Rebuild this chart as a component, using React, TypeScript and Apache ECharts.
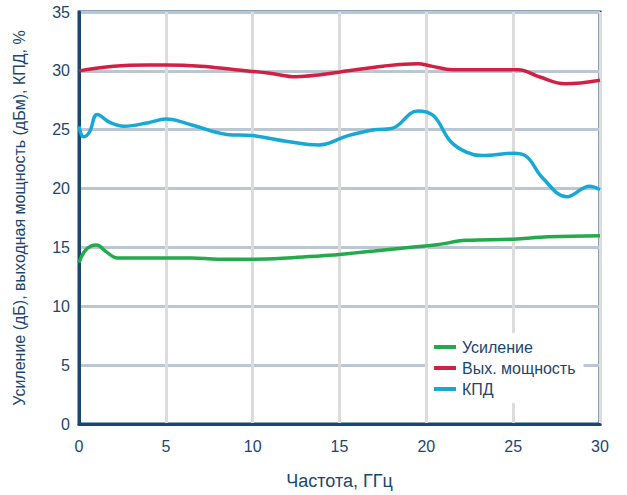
import React, { useEffect, useRef } from "react";
import * as echarts from "echarts";

const gainFreq = [0, 0.4, 1.0, 1.6, 2.2, 3, 5, 6.5, 8, 10, 12, 14, 15, 17, 19, 20.5, 22.3, 25, 27, 30];
const gainVals = [13.7, 14.8, 15.2, 14.6, 14.1, 14.1, 14.1, 14.1, 14.0, 14.0, 14.1, 14.3, 14.4, 14.7, 15.0, 15.2, 15.6, 15.7, 15.9, 16.0];

const powerFreq = [0, 2, 4, 5, 7, 9, 11, 12.5, 14, 15.5, 17.5, 19.5, 20.3, 21.5, 23, 25.3, 26.5, 28, 30];
const powerVals = [30.0, 30.4, 30.5, 30.5, 30.4, 30.1, 29.8, 29.5, 29.7, 30.0, 30.4, 30.6, 30.4, 30.1, 30.1, 30.1, 29.5, 28.9, 29.2];

const effFreq = [0, 0.25, 0.6, 1.05, 1.8, 2.6, 4, 5, 6.5, 8.5, 10, 12, 13.8, 15.5, 17, 18, 19.5, 20.4, 21.4, 22.3, 23.2, 25, 25.7, 26.7, 28.1, 29.4, 30];
const effVals = [25.3, 24.4, 24.8, 26.3, 25.6, 25.3, 25.6, 25.9, 25.4, 24.6, 24.5, 24.0, 23.7, 24.5, 25.0, 25.1, 26.6, 26.2, 24.0, 23.1, 22.8, 23.0, 22.8, 20.9, 19.3, 20.2, 19.9];

const seriesNames = ["Усиление", "Вых. мощность", "КПД"];
const xTicks = { min: 0, max: 30, interval: 5 };
const yTicks = { min: 0, max: 35, interval: 5 };

const NAVY = "#1b4670";
const FONT = "'Liberation Sans', Arial, sans-serif";

export default function App() {
  const ref = useRef<HTMLDivElement>(null);
  useEffect(() => {
    if (!ref.current) return;
    const chart = echarts.init(ref.current, null, { renderer: "svg", width: 627, height: 495 });
    const pair = (xs: number[], ys: number[]) => xs.map((x, i) => [x, ys[i]]);
    chart.setOption({
      animation: false,
      backgroundColor: "#ffffff",
      textStyle: { fontFamily: FONT },
      grid: {
        left: 79,
        right: 27,
        top: 12,
        bottom: 67,
        show: true,
        borderColor: NAVY,
        borderWidth: 3,
        backgroundColor: "transparent",
      },
      legend: {
        orient: "vertical",
        left: 428,
        top: 333,
        backgroundColor: "#ffffff",
        padding: [6, 8, 6, 6],
        itemWidth: 22,
        itemHeight: 4,
        itemGap: 5,
        icon: "rect",
        textStyle: { color: NAVY, fontSize: 16, fontFamily: FONT, padding: [0, 0, 0, 1] },
        data: seriesNames,
      },
      xAxis: {
        type: "value",
        min: xTicks.min,
        max: xTicks.max,
        interval: xTicks.interval,
        name: "Частота, ГГц",
        nameLocation: "middle",
        nameGap: 48,
        nameTextStyle: { color: NAVY, fontSize: 18, fontFamily: FONT },
        axisLine: { show: true, lineStyle: { color: NAVY, width: 3 } },
        axisTick: { show: false },
        axisLabel: { color: NAVY, fontSize: 16, margin: 14, fontFamily: FONT },
        splitLine: { show: true, lineStyle: { color: "#dcdcdc", width: 3 } },
      },
      yAxis: {
        type: "value",
        min: yTicks.min,
        max: yTicks.max,
        interval: yTicks.interval,
        name: "Усиление (дБ), выходная мощность (дБм), КПД, %",
        nameLocation: "middle",
        nameGap: 52,
        nameTextStyle: { color: NAVY, fontSize: 16, fontFamily: FONT },
        axisLine: { show: true, lineStyle: { color: NAVY, width: 3 } },
        axisTick: { show: false },
        axisLabel: { color: NAVY, fontSize: 16, margin: 9, fontFamily: FONT },
        splitLine: { show: true, lineStyle: { color: "#bac6d2", width: 3 } },
      },
      series: [
        {
          name: seriesNames[0],
          type: "line",
          data: pair(gainFreq, gainVals),
          smooth: 0.4,
          showSymbol: false,
          color: "#23ab4b",
          lineStyle: { width: 3.5, color: "#23ab4b" },
        },
        {
          name: seriesNames[1],
          type: "line",
          data: pair(powerFreq, powerVals),
          smooth: 0.4,
          showSymbol: false,
          color: "#d21f43",
          lineStyle: { width: 3.5, color: "#d21f43" },
        },
        {
          name: seriesNames[2],
          type: "line",
          data: pair(effFreq, effVals),
          smooth: 0.4,
          showSymbol: false,
          color: "#17a8d6",
          lineStyle: { width: 3.5, color: "#17a8d6" },
        },
      ],
    });
    return () => chart.dispose();
  }, []);
  return (
    <div
      ref={ref}
      style={{ position: "absolute", left: 0, top: 0, width: 627, height: 495 }}
    />
  );
}
